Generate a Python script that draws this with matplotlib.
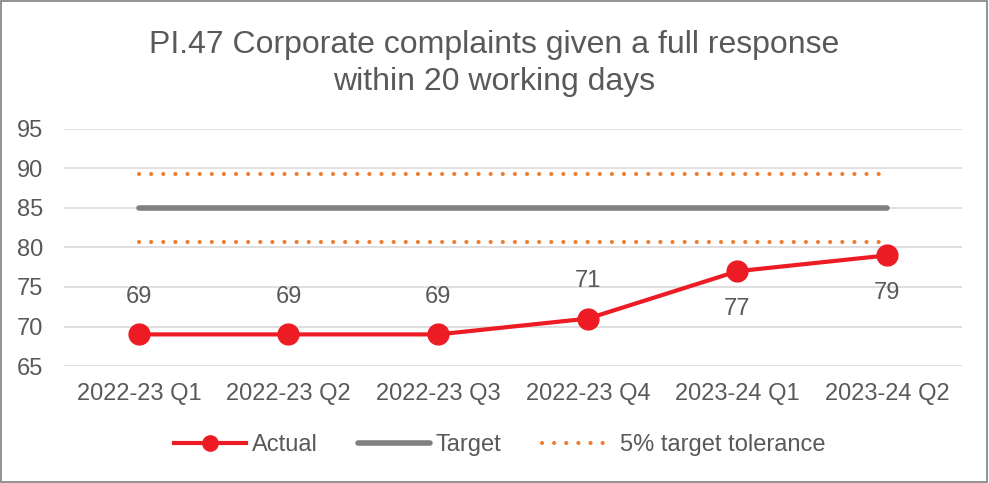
import matplotlib.pyplot as plt
from matplotlib.lines import Line2D
from matplotlib.patches import Rectangle

######## data ########

quarters = ['2022-23 Q1', '2022-23 Q2', '2022-23 Q3', '2022-23 Q4', '2023-24 Q1', '2023-24 Q2']
actual = [69, 69, 69, 71, 77, 79]
target = [85, 85, 85, 85, 85, 85]
tol_upper = [89.25, 89.25, 89.25, 89.25, 89.25, 89.25]
tol_lower = [80.75, 80.75, 80.75, 80.75, 80.75, 80.75]
label_above = [True, True, True, True, False, False]

######## plot settings ########

plt.rcParams['font.family'] = ['Liberation Sans', 'DejaVu Sans']
txt = '#595959'
red = '#ED1C24'
grey = '#808080'
orange = '#ED7D31'
dots = (0, (0.01, 2.9))

fig = plt.figure(figsize=(9.89, 4.83), dpi=100)
ax = fig.add_axes([0.0647, 0.2422, 0.908, 0.4908])

x = list(range(len(quarters)))
ax.plot(x, tol_upper, color=orange, lw=3, ls=dots, dash_capstyle='round')
ax.plot(x, tol_lower, color=orange, lw=3, ls=dots, dash_capstyle='round')
ax.plot(x, target, color=grey, lw=4, solid_capstyle='round')
ax.plot(x, actual, color=red, lw=3, marker='o', markersize=15, zorder=5)

for xi, v, up in zip(x, actual, label_above):
    off = 27 if up else -27
    ax.annotate(str(v), (xi, v), xytext=(0, off), textcoords='offset points',
                ha='center', va='center', fontsize=17, color=txt)

ax.set_xlim(-0.5, len(quarters) - 0.5)
ax.set_ylim(65, 95)
ax.set_yticks(range(65, 96, 5))
ax.set_xticks(x)
ax.set_xticklabels(quarters)
ax.grid(axis='y', color='#D9D9D9', lw=1.2)
ax.set_axisbelow(True)
for s in ax.spines.values():
    s.set_visible(False)
ax.tick_params(length=0, labelsize=17, colors=txt)
ax.tick_params(axis='x', pad=12)
ax.tick_params(axis='y', pad=15)

fig.text(0.5, 0.869, 'PI.47 Corporate complaints given a full response\nwithin 20 working days',
         ha='center', va='center', fontsize=23, color=txt, linespacing=1.3)

handles = [
    Line2D([], [], color=red, lw=3, marker='o', markersize=11),
    Line2D([], [], color=grey, lw=4, solid_capstyle='round'),
    Line2D([], [], color=orange, lw=3, ls=dots, dash_capstyle='round'),
]
fig.legend(handles, ['Actual', 'Target', '5% target tolerance'], loc='center',
           bbox_to_anchor=(0.505, 0.079), ncol=3, frameon=False, fontsize=17,
           labelcolor=txt, handlelength=3.05, handletextpad=0.25, columnspacing=1.7)

fig.patches.append(Rectangle((0.001, 0.002), 0.997, 0.996, transform=fig.transFigure,
                             fill=False, edgecolor='#7F7F7F', lw=1.2))

plt.savefig('out.png', dpi=100)
